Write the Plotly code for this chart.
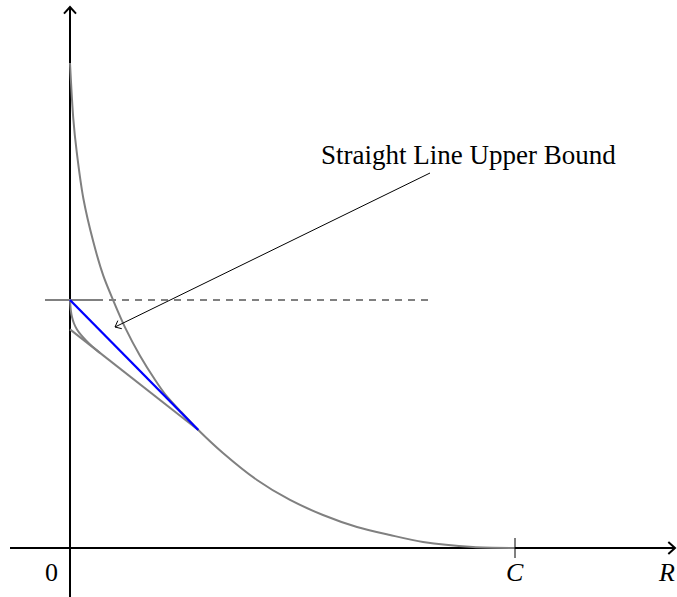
import math
import plotly.graph_objects as go

# ---- data (R in units of C, D on the same scale) ----
C = 1.0

# convex curve D(R), vertical near R = 0, flattening to zero at R = C
r_main = [0.0, 0.0074, 0.0151, 0.0299, 0.0524, 0.0748, 0.0973, 0.1245, 0.1573,
          0.1910, 0.2135, 0.2500, 0.2883, 0.3438, 0.4202, 0.4944, 0.5685, 0.6449,
          0.7191, 0.7933, 0.9056, 1.0]
d_main = [1.0899, 0.965, 0.890, 0.786, 0.688, 0.612, 0.556, 0.494, 0.432,
          0.378, 0.346, 0.3055, 0.2652, 0.2135, 0.1528, 0.1079, 0.0742, 0.0472,
          0.0292, 0.0135, 0.0022, 0.0]

# inner curve leaving the bound level and bending onto the tangent line
r_inner = [0.0, 0.0018, 0.0045, 0.0090, 0.0157, 0.0247, 0.0360, 0.0494, 0.0674]
d_inner = [0.5573, 0.5348, 0.5191, 0.5045, 0.4910, 0.4787, 0.4663, 0.4533, 0.4384]

# tangent line (lower) and straight line upper bound, both ending at the touch point
r_tangent = [0.0, 0.2883]
d_tangent = [0.4913, 0.2652]
r_upper = [0.0, 0.2883]
d_upper = [0.5573, 0.2652]

bound_level = 0.5573
bound_solid = [-0.0562, 0.0674]
bound_dashed = [0.0, 0.8157]

tick_text = ["0", "<i>C</i>", "<i>R</i>"]
annotation_text = "Straight Line Upper Bound"

# ---- figure geometry ----
W, H = 677, 597
PX = 445.0                      # pixels per data unit on both axes
x_range = [-70 / PX, (W - 70) / PX]
y_range = [-(H - 548) / PX, 548 / PX]

GRAY = "#808080"
BLUE = "#0000ff"
FONT = "Liberation Serif"


def chevron(tip_x, tip_y, angle_deg, length_px, spread_deg):
    """Open arrow tip (two barbs) pointing along angle_deg at (tip_x, tip_y)."""
    L = length_px / PX
    pts = []
    for s in (spread_deg, -spread_deg):
        a = math.radians(angle_deg + s)
        pts.append((tip_x - L * math.cos(a), tip_y - L * math.sin(a)))
    (x1, y1), (x2, y2) = pts
    return f"M {x1},{y1} L {tip_x},{tip_y} L {x2},{y2}"


fig = go.Figure()

# curves
fig.add_trace(go.Scatter(x=r_main, y=d_main, mode="lines",
                         line=dict(color=GRAY, width=2, shape="spline", smoothing=0.8)))
fig.add_trace(go.Scatter(x=r_inner, y=d_inner, mode="lines",
                         line=dict(color=GRAY, width=2, shape="spline", smoothing=0.8)))
fig.add_trace(go.Scatter(x=r_tangent, y=d_tangent, mode="lines",
                         line=dict(color=GRAY, width=2)))
fig.add_trace(go.Scatter(x=bound_solid, y=[bound_level] * 2, mode="lines",
                         line=dict(color=GRAY, width=2)))
fig.add_trace(go.Scatter(x=bound_dashed, y=[bound_level] * 2, mode="lines",
                         line=dict(color=GRAY, width=2, dash="7px,6px")))
fig.add_trace(go.Scatter(x=r_upper, y=d_upper, mode="lines",
                         line=dict(color=BLUE, width=2.3)))

shapes = []
# axes
x_tip = (675 - 70) / PX
y_tip = (548 - 7) / PX
shapes.append(dict(type="line", x0=(10 - 70) / PX, y0=0, x1=x_tip, y1=0,
                   line=dict(color="black", width=2), layer="below"))
shapes.append(dict(type="line", x0=0, y0=y_range[0], x1=0, y1=y_tip,
                   line=dict(color="black", width=2), layer="below"))
shapes.append(dict(type="path", path=chevron(x_tip, 0, 0, 9, 42),
                   line=dict(color="black", width=2)))
shapes.append(dict(type="path", path=chevron(0, y_tip, 90, 9, 42),
                   line=dict(color="black", width=2)))
# tick at C
shapes.append(dict(type="line", x0=C, y0=-10 / PX, x1=C, y1=10 / PX,
                   line=dict(color="black", width=1)))

# pointer from the label to the upper bound line
tail = ((430 - 70) / PX, (548 - 173) / PX)
head = ((115 - 70) / PX, (548 - 327) / PX)
ang = math.degrees(math.atan2(head[1] - tail[1], head[0] - tail[0]))
shapes.append(dict(type="line", x0=tail[0], y0=tail[1], x1=head[0], y1=head[1],
                   line=dict(color="black", width=1)))
shapes.append(dict(type="path", path=chevron(head[0], head[1], ang, 7, 40),
                   line=dict(color="black", width=1)))

annotations = [
    dict(x=(468 - 70) / PX, y=(548 - 155) / PX, text=annotation_text, showarrow=False,
         font=dict(family=FONT, size=27, color="black"), xanchor="center", yanchor="middle"),
    dict(x=(51 - 70) / PX, y=-24 / PX, text=tick_text[0], showarrow=False,
         font=dict(family=FONT, size=26, color="black"), xanchor="center", yanchor="middle"),
    dict(x=C, y=-24 / PX, text=tick_text[1], showarrow=False,
         font=dict(family=FONT, size=26, color="black"), xanchor="center", yanchor="middle"),
    dict(x=(666 - 70) / PX, y=-24 / PX, text=tick_text[2], showarrow=False,
         font=dict(family=FONT, size=26, color="black"), xanchor="center", yanchor="middle"),
]

fig.update_layout(
    width=W, height=H,
    margin=dict(l=0, r=0, t=0, b=0),
    paper_bgcolor="white", plot_bgcolor="white",
    showlegend=False,
    shapes=shapes,
    annotations=annotations,
    xaxis=dict(range=x_range, visible=False, fixedrange=True),
    yaxis=dict(range=y_range, visible=False, fixedrange=True),
)

fig.write_html("out.html")
